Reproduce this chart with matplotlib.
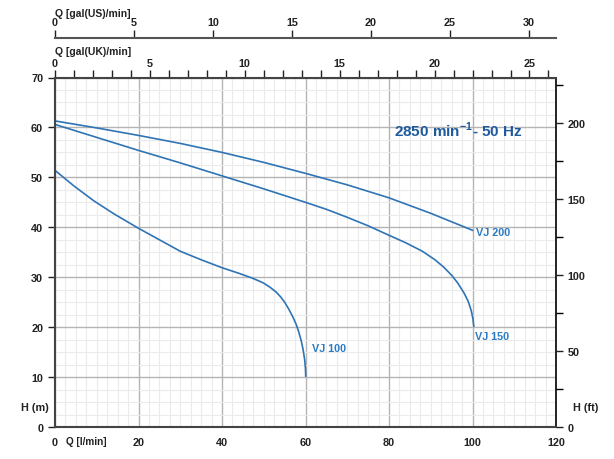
import matplotlib
matplotlib.use("Agg")
import matplotlib.pyplot as plt
from matplotlib.ticker import MultipleLocator, FixedLocator

plt.rcParams['font.family'] = ['Liberation Sans', 'DejaVu Sans']
plt.rcParams['mathtext.fontset'] = 'custom'
plt.rcParams['mathtext.bf'] = 'Liberation Sans:bold'
plt.rcParams['mathtext.rm'] = 'Liberation Sans'

# pump curves, Q in l/min, H in m
vj200_q = [0, 10, 20, 30, 40, 50, 60, 70, 80, 90, 100]
vj200_h = [61.3, 59.9, 58.4, 56.8, 55.0, 53.0, 50.8, 48.5, 45.9, 42.8, 39.4]

vj150_q = [0, 10, 20, 30, 40, 50, 60, 65, 70, 75, 80, 84, 88, 91, 93, 95,
           96.5, 98, 99, 99.7, 100.1, 100.3]
vj150_h = [60.6, 58.0, 55.4, 52.9, 50.3, 47.7, 45.0, 43.6, 42.0, 40.3, 38.4, 36.9,
           35.2, 33.5, 32.1, 30.4, 28.8, 26.8, 25.1, 23.3, 21.7, 20.2]

vj100_q = [0, 4.5, 9.3, 14.1, 20, 25, 30, 35, 40, 44, 47, 49, 50, 51.5, 53, 54, 55,
           56, 57, 57.8, 58.4, 59, 59.4, 59.8, 60, 60.05]
vj100_h = [51.4, 48.3, 45.3, 42.7, 39.8, 37.5, 35.2, 33.5, 31.9, 30.8, 29.9, 29.2, 28.8,
           28.0, 27.0, 26.1, 25.0, 23.6, 22.0, 20.5, 19.0, 17.2, 15.6, 13.5, 11.5, 10.2]

curve_names = ["VJ 200", "VJ 150", "VJ 100"]
title_text = r"2850 min$^{\mathbf{-1}}$- 50 Hz"

us_ticks = [0, 5, 10, 15, 20, 25, 30]
uk_ticks = [0, 5, 10, 15, 20, 25]
uk_minor = list(range(0, 27))

L_PER_GAL_US = 3.785
L_PER_GAL_UK = 4.546
FT_PER_M = 3.2808

curve_col = "#2f74b5"
label_col = "#2b7bc4"
dark = "#222222"
fs = 7.8

W, H = 614, 460
x0, x1, y_top, y_bot = 55, 556, 78.5, 428
fig = plt.figure(figsize=(W / 100, H / 100), dpi=100)
ax = fig.add_axes([x0 / W, (H - y_bot) / H, (x1 - x0) / W, (y_bot - y_top) / H])

ax.set_xlim(0, 120)
ax.set_ylim(0, 70)
ax.xaxis.set_major_locator(MultipleLocator(20))
ax.xaxis.set_minor_locator(MultipleLocator(2.5))
ax.yaxis.set_major_locator(MultipleLocator(10))
ax.yaxis.set_minor_locator(MultipleLocator(2.5))
ax.grid(which='major', color='#b4b4b4', lw=1.0)
ax.grid(which='minor', color='#ebebeb', lw=0.8)
ax.set_axisbelow(True)

ax.tick_params(axis='x', which='both', length=0, pad=7, labelsize=fs, colors=dark)
ax.tick_params(axis='y', which='major', length=5, width=1, labelsize=fs, colors=dark)
ax.tick_params(axis='y', which='minor', length=0)
for lab in ax.get_xticklabels() + ax.get_yticklabels():
    lab.set_fontweight('bold')

for s in ['left', 'bottom', 'top']:
    ax.spines[s].set_color('#444444')
    ax.spines[s].set_linewidth(1.5)
ax.spines['right'].set_color('black')
ax.spines['right'].set_linewidth(1.2)

# curves
ax.plot(vj200_q, vj200_h, color=curve_col, lw=1.2)
ax.plot(vj150_q, vj150_h, color=curve_col, lw=1.2)
ax.plot(vj100_q, vj100_h, color=curve_col, lw=1.2)

ax.text(vj200_q[-1] + 0.8, vj200_h[-1] - 0.4, curve_names[0], color=label_col,
        fontsize=7.8, fontweight='bold', ha='left', va='center')
ax.text(vj150_q[-1] + 0.3, vj150_h[-1] - 2.0, curve_names[1], color=label_col,
        fontsize=7.8, fontweight='bold', ha='left', va='center')
ax.text(vj100_q[-1] + 1.5, 15.8, curve_names[2], color=label_col,
        fontsize=7.8, fontweight='bold', ha='left', va='center')

ax.text(81.3, 59.6, title_text, color='#1f5a9e', fontsize=11,
        fontweight='bold', ha='left', va='center')

# right axis in feet
axr = ax.twinx()
axr.set_ylim(0, 70 * FT_PER_M)
axr.yaxis.set_major_locator(FixedLocator([0, 50, 100, 150, 200]))
axr.yaxis.set_minor_locator(FixedLocator([25, 75, 125, 175, 225]))
axr.tick_params(axis='y', which='major', length=5, width=1, labelsize=fs, colors=dark)
axr.tick_params(axis='y', which='minor', length=5, width=1)
for lab in axr.get_yticklabels():
    lab.set_fontweight('bold')
for s in axr.spines.values():
    s.set_visible(False)

# top axes in gallons
ax_uk = ax.secondary_xaxis('top', functions=(lambda q: q / L_PER_GAL_UK,
                                              lambda g: g * L_PER_GAL_UK))
ax_uk.xaxis.set_major_locator(FixedLocator(uk_ticks))
ax_uk.xaxis.set_minor_locator(FixedLocator(uk_minor))
ax_uk.tick_params(which='both', length=5, width=1, labelsize=fs, colors=dark, pad=2)
for lab in ax_uk.get_xticklabels():
    lab.set_fontweight('bold')
ax_uk.spines['top'].set_visible(False)

us_loc = 1 + (y_top - 39) / (y_bot - y_top)
ax_us = ax.secondary_xaxis(us_loc, functions=(lambda q: q / L_PER_GAL_US,
                                              lambda g: g * L_PER_GAL_US))
ax_us.xaxis.set_major_locator(FixedLocator(us_ticks))
ax_us.xaxis.set_minor_locator(FixedLocator([]))
ax_us.tick_params(which='major', length=6, width=1, labelsize=fs, colors=dark, pad=2)
for lab in ax_us.get_xticklabels():
    lab.set_fontweight('bold')
ax_us.spines['top'].set_color('#555555')
ax_us.spines['top'].set_linewidth(1.5)

# axis titles
fig.text(x0 / W, 1 - 14 / H, "Q [gal(US)/min]", fontsize=7.5, fontweight='bold',
         color=dark, ha='left', va='center')
fig.text(x0 / W, 1 - 52 / H, "Q [gal(UK)/min]", fontsize=7.5, fontweight='bold',
         color=dark, ha='left', va='center')
fig.text(66 / W, 1 - 442 / H, "Q [l/min]", fontsize=7.2, fontweight='bold',
         color=dark, ha='left', va='center')
fig.text(35 / W, 1 - 408 / H, "H (m)", fontsize=fs, fontweight='bold',
         color=dark, ha='center', va='center')
fig.text(586 / W, 1 - 408 / H, "H (ft)", fontsize=fs, fontweight='bold',
         color=dark, ha='center', va='center')

fig.savefig("out.png", dpi=100)
